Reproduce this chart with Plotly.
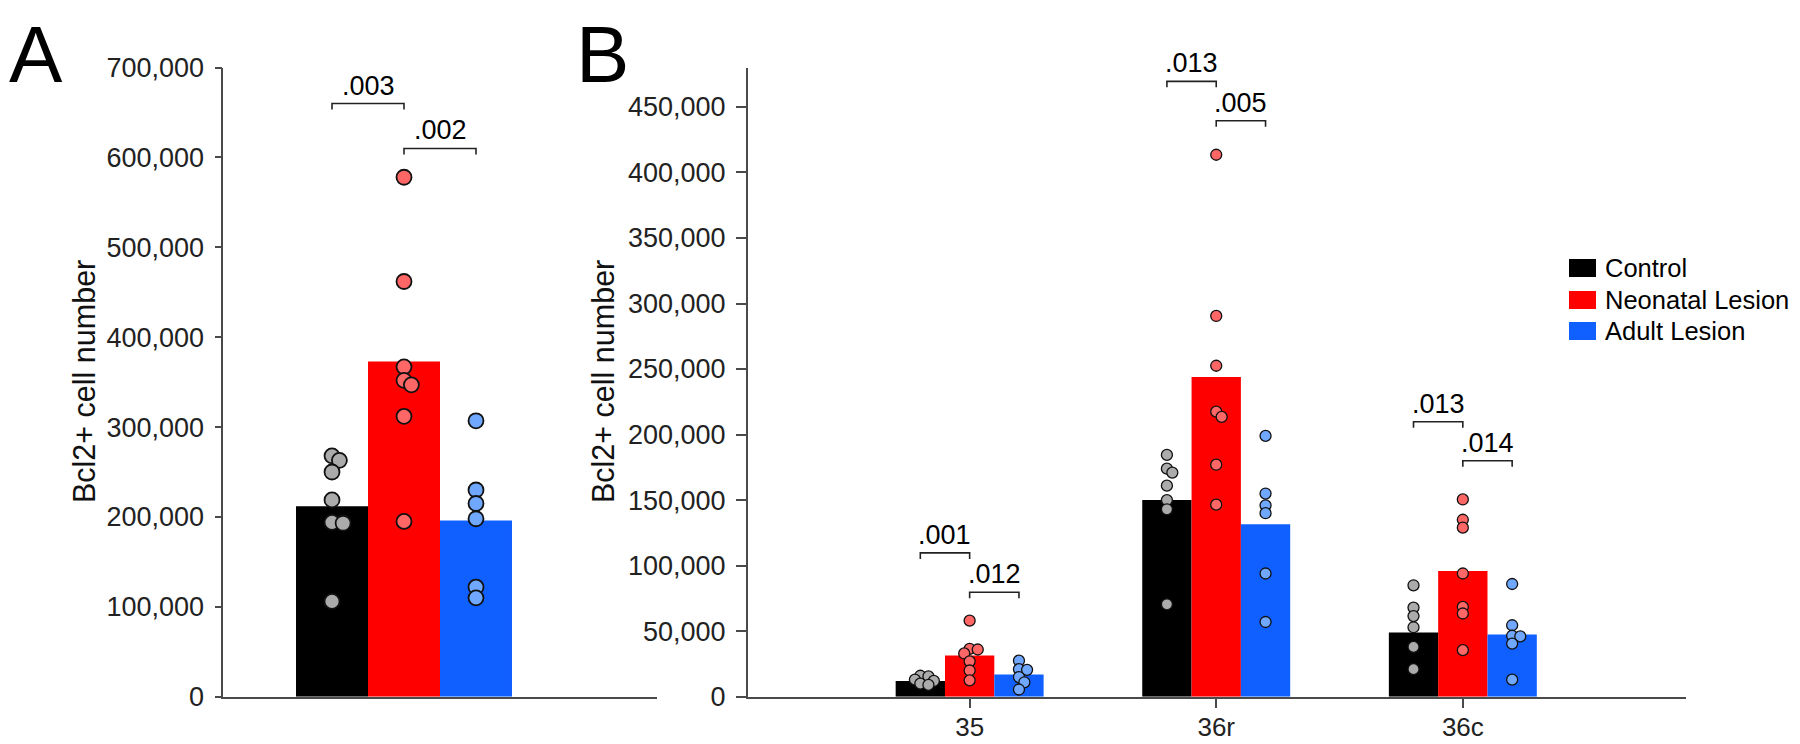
import plotly.graph_objects as go

# ---------------- data ----------------
groups = ["Control", "Neonatal Lesion", "Adult Lesion"]
regions_b = ["35", "36r", "36c"]

# Panel A: bar heights and individual animals
a_means = [212000, 373000, 196000]
a_control = [268000, 263000, 250000, 219000, 194000, 193000, 106000]
a_neonatal = [578000, 462000, 367000, 352000, 347000, 312000, 195000]
a_adult = [307000, 230000, 215000, 198000, 122000, 110000]

# Panel B: bar heights per region (35, 36r, 36c)
b_control_means = [12000, 150000, 49000]
b_neonatal_means = [31500, 244000, 96000]
b_adult_means = [17000, 131500, 47500]

# Panel B: individual animals per region
b_control = [
    [16000, 15500, 13000, 12000, 10000, 9000],
    [184500, 174000, 171000, 161000, 150000, 143000, 70500],
    [85000, 68000, 61500, 53000, 38000, 21000],
]
b_neonatal = [
    [58000, 36500, 36000, 33000, 27000, 20000, 12500],
    [413500, 290500, 252500, 217500, 213500, 177000, 146500],
    [150500, 135000, 129000, 94000, 68500, 63500, 35500],
]
b_adult = [
    [27500, 21000, 20500, 15000, 11000, 5500],
    [199000, 155000, 146000, 140000, 94000, 57000],
    [86000, 54500, 46500, 46000, 40500, 13000],
]

# significance brackets (p values and bracket heights)
a_sig_labels = [".003", ".002"]
a_sig_y = [660000, 610000]
b_sig_labels = [[".001", ".012"], [".013", ".005"], [".013", ".014"]]
b_sig_y = [[109700, 79700], [469500, 439500], [209800, 180000]]

a_ticks = [0, 100000, 200000, 300000, 400000, 500000, 600000, 700000]
b_ticks = [0, 50000, 100000, 150000, 200000, 250000, 300000, 350000, 400000, 450000]

# ---------------- styling / geometry ----------------
# the page body has an 8px margin, so the figure is drawn 8px smaller and
# every target pixel position is shifted by that margin
PAGE_W, PAGE_H = 1800, 744
OFF = 8
W, H = PAGE_W - OFF, PAGE_H - OFF


def px2x(px):
    return (px - OFF) / W


def px2y(py):
    return 1 - (py - OFF) / H


FONT = "Liberation Sans, Arial, Helvetica, sans-serif"
bar_colors = ["#000000", "#FF0000", "#1060FF"]
dot_colors = ["#ABABAB", "#FF6666", "#70A8FF"]
offsets = [-0.2, 0.0, 0.2]
BAR_W = 0.2
AXIS_COLOR = "#4a4a4a"

Y_BOT, Y_TOP = 696.7, 67.6
A_X0, A_X1 = 223.3, 656.7
B_X0, B_X1 = 747.7, 1686.0
A_RANGE = [-0.502, 0.702]
B_RANGE = [-0.9, 2.905]
A_YMAX, B_YMAX = 700000, 480000

a_px_x = (A_X1 - A_X0) / (A_RANGE[1] - A_RANGE[0])
b_px_x = (B_X1 - B_X0) / (B_RANGE[1] - B_RANGE[0])
a_px_y = (Y_BOT - Y_TOP) / A_YMAX
b_px_y = (Y_BOT - Y_TOP) / B_YMAX

A_DOT, B_DOT = 15, 11
A_LW, B_LW = 1.8, 1.3


def swarm(values, diam, px_x, px_y):
    placed = []
    out = []
    step = 0.22 * diam
    mind = 0.5 * diam
    for v in values:
        y = v * px_y
        cands = [0.0]
        for k in range(1, 40):
            cands += [k * step, -k * step]
        for c in cands:
            if all((c - px) ** 2 + (y - py) ** 2 >= mind ** 2 for px, py in placed):
                break
        placed.append((c, y))
        out.append(c / px_x)
    return out


fig = go.Figure()

# ---- bars ----
for g in range(3):
    fig.add_trace(go.Bar(x=[offsets[g]], y=[a_means[g]], width=BAR_W,
                         marker=dict(color=bar_colors[g], line=dict(width=0)),
                         name=groups[g], xaxis="x", yaxis="y", showlegend=False,
                         hoverinfo="skip"))
b_means = [b_control_means, b_neonatal_means, b_adult_means]
for g in range(3):
    fig.add_trace(go.Bar(x=[i + offsets[g] for i in range(len(regions_b))], y=b_means[g],
                         width=BAR_W, marker=dict(color=bar_colors[g], line=dict(width=0)),
                         name=groups[g], xaxis="x2", yaxis="y2", showlegend=False,
                         hoverinfo="skip"))

# ---- dots ----
a_points = [a_control, a_neonatal, a_adult]
for g in range(3):
    js = swarm(a_points[g], A_DOT + A_LW, a_px_x, a_px_y)
    fig.add_trace(go.Scatter(x=[offsets[g] + j for j in js], y=a_points[g], mode="markers",
                             marker=dict(size=A_DOT, color=dot_colors[g],
                                         line=dict(color="#111111", width=A_LW)),
                             xaxis="x", yaxis="y", showlegend=False, cliponaxis=False))
b_points = [b_control, b_neonatal, b_adult]
for g in range(3):
    xs, ys = [], []
    for i in range(len(regions_b)):
        js = swarm(b_points[g][i], B_DOT + B_LW, b_px_x, b_px_y)
        xs += [i + offsets[g] + j for j in js]
        ys += b_points[g][i]
    fig.add_trace(go.Scatter(x=xs, y=ys, mode="markers",
                             marker=dict(size=B_DOT, color=dot_colors[g],
                                         line=dict(color="#111111", width=B_LW)),
                             xaxis="x2", yaxis="y2", showlegend=False, cliponaxis=False))

# ---- significance brackets ----
shapes = []
annotations = []


def bracket(xa, xb, yv, tick, label, xref, yref):
    shapes.append(dict(type="path", xref=xref, yref=yref,
                       path=f"M {xa},{yv - tick} L {xa},{yv} L {xb},{yv} L {xb},{yv - tick}",
                       line=dict(color="#222222", width=1.6)))
    annotations.append(dict(x=(xa + xb) / 2, y=yv, xref=xref, yref=yref, text=label,
                            showarrow=False, yanchor="bottom", yshift=1,
                            font=dict(size=27, color="#000000", family=FONT)))


a_tick = 6 / a_px_y
b_tick = 6 / b_px_y
bracket(offsets[0], offsets[1], a_sig_y[0], a_tick, a_sig_labels[0], "x", "y")
bracket(offsets[1], offsets[2], a_sig_y[1], a_tick, a_sig_labels[1], "x", "y")
for i in range(len(regions_b)):
    bracket(i + offsets[0], i + offsets[1], b_sig_y[i][0], b_tick, b_sig_labels[i][0], "x2", "y2")
    bracket(i + offsets[1], i + offsets[2], b_sig_y[i][1], b_tick, b_sig_labels[i][1], "x2", "y2")

# ---- axis titles ----
for xc in (84, 603):
    annotations.append(dict(x=px2x(xc), y=px2y(382), xref="paper", yref="paper",
                            text="Bcl2+ cell number", textangle=-90, showarrow=False,
                            xanchor="center", yanchor="middle",
                            font=dict(size=30.5, color="#111111", family=FONT)))

# ---- panel letters ----
for letter, xl, xs_ in (("A", 8, -1), ("B", 579, -5)):
    annotations.append(dict(x=px2x(xl), y=1, xref="paper", yref="paper", text=letter,
                            showarrow=False, xanchor="left", yanchor="top", yshift=0,
                            xshift=xs_,
                            font=dict(size=80, color="#000000", family=FONT)))

# ---- legend (drawn) ----
leg_rows = [268, 300, 331]
for g in range(3):
    yc = leg_rows[g]
    shapes.append(dict(type="rect", xref="paper", yref="paper",
                       x0=px2x(1569), x1=px2x(1596), y0=px2y(yc + 9), y1=px2y(yc - 9),
                       fillcolor=bar_colors[g], line=dict(width=0)))
    annotations.append(dict(x=px2x(1603), y=px2y(yc), xref="paper", yref="paper",
                            text=groups[g], showarrow=False, xanchor="left", yanchor="middle",
                            font=dict(size=25.5, color="#000000", family=FONT)))

ydom = [px2y(Y_BOT), px2y(Y_TOP)]
axis_common = dict(showline=True, linecolor=AXIS_COLOR, linewidth=1.5, showgrid=False,
                   zeroline=False, automargin=False, tickwidth=1.5, tickcolor=AXIS_COLOR)
tfont = dict(size=27, color="#222222", family=FONT)
fig.update_layout(
    width=W, height=H,
    margin=dict(l=0, r=0, t=0, b=0),
    paper_bgcolor="white", plot_bgcolor="white",
    barmode="overlay", showlegend=False,
    font=dict(family=FONT, size=26, color="#222222"),
    xaxis=dict(domain=[px2x(A_X0), px2x(A_X1)], range=A_RANGE, ticks="",
               showticklabels=False, anchor="y", **axis_common),
    yaxis=dict(domain=ydom, range=[0, A_YMAX], tickvals=a_ticks, tickformat=",",
               ticks="outside", ticklen=7, anchor="x", ticklabelstandoff=5,
               tickfont=tfont, **axis_common),
    xaxis2=dict(domain=[px2x(B_X0), px2x(B_X1)], range=B_RANGE, ticks="outside", ticklen=10,
                tickvals=list(range(len(regions_b))), ticktext=regions_b,
                anchor="y2", ticklabelstandoff=-4,
                tickfont=dict(size=26, color="#222222", family=FONT), **axis_common),
    yaxis2=dict(domain=ydom, range=[0, B_YMAX], tickvals=b_ticks, tickformat=",",
                ticks="outside", ticklen=10, anchor="x2", ticklabelstandoff=5,
                tickfont=tfont, **axis_common),
    shapes=shapes, annotations=annotations,
)

fig.write_html("out.html")
